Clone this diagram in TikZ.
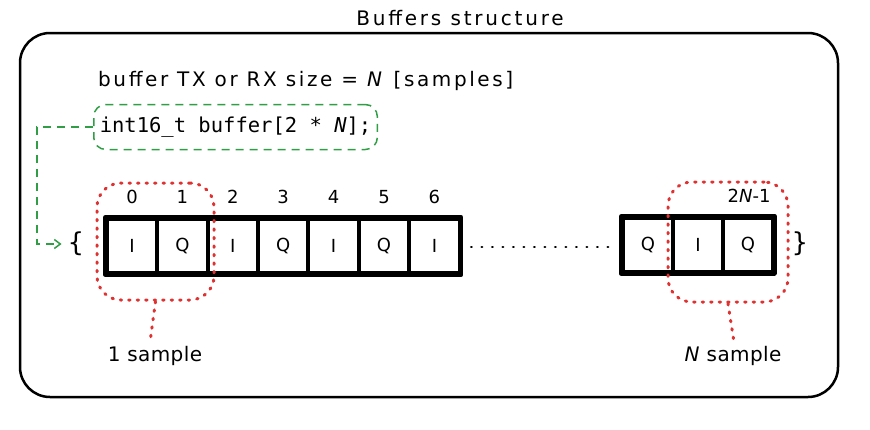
\documentclass[tikz,border=0pt]{standalone}
\usepackage{fontspec}
\setmainfont{DejaVu Sans}
\setmonofont{DejaVu Sans Mono}
\usetikzlibrary{calc,arrows.meta}
\definecolor{exred}{HTML}{E03131}
\definecolor{exgreen}{HTML}{2F9E44}
\tikzset{
  cell/.style={draw, line width=3.5pt, minimum width=50pt, minimum height=54pt, inner sep=0pt, font=\fontsize{18}{18}\selectfont},
  idx/.style={font=\fontsize{18}{18}\selectfont, inner sep=0pt},
  txt/.style={font=\fontsize{20}{20}\selectfont\addfontfeatures{LetterSpace=13}, inner sep=0pt, anchor=west},
  reddot/.style={draw=exred, line width=3pt, line cap=round, dash pattern=on 1.5pt off 7pt, rounded corners=24pt},
  redline/.style={draw=exred, line width=3pt, line cap=round, dash pattern=on 1.5pt off 7pt},
  greendash/.style={draw=exgreen, line width=1.5pt, dash pattern=on 8pt off 6pt},
  lbl/.style={font=\fontsize{20}{20}\selectfont\addfontfeatures{LetterSpace=2}, inner sep=0pt},
}
\begin{document}
\begin{tikzpicture}[x=1pt,y=-1pt]
\useasboundingbox (0,0) rectangle (870,429);
\node[font=\fontsize{20}{20}\selectfont\addfontfeatures{LetterSpace=14}, inner sep=0pt] (title) at (460,18) {Buffers structure};
\draw[line width=2.5pt, rounded corners=30pt] (20,33) rectangle (838,397);
\node[txt] (size) at (98,81) {buffer TX or RX size = \textit{N} [samples]};
\node[greendash, rounded corners=12pt, anchor=west, minimum height=45pt, inner xsep=6pt, font=\fontsize{20.5}{20.5}\ttfamily] (code) at (93,127) {int16\_t buffer[2 * \textit{N}];};
% cells
\foreach \i/\t [count=\k from 0] in {0/I,1/Q,2/I,3/Q,4/I,5/Q,6/I}{
  \node[cell] (c\i) at (132+50.4*\k,246) {\t};
  \node[idx] (n\i) at ($(c\i.north)+(0,-20)$) {\i};
}
\draw[line width=4.5pt, line join=round] (c0.north west) rectangle (c6.south east);
\foreach \i/\t [count=\k from 0] in {0/Q,1/I,2/Q}{
  \node[cell] (r\i) at (648+50*\k,245) {\t};
}
\draw[line width=4.5pt, line join=round] (r0.north west) rectangle (r2.south east);
\node[idx, anchor=east] (nlast) at ($(r2.north east)+(-4,-20)$) {2\textit{N}-1};
\draw[line width=2.5pt, line cap=round, dash pattern=on 0.5pt off 10pt] ($(c6.east)+(10,1)$) -- ($(r0.west)+(-8,2)$);
% braces
\node[font=\fontsize{26}{26}\selectfont, inner sep=0pt] (lb) at (76,244) {\{};
\node[font=\fontsize{26}{26}\selectfont, inner sep=0pt] (rb) at (800,244) {\}};
% green arrow
\coordinate (bend) at (37,127);
\draw[greendash, -{Straight Barb[length=6pt,width=9pt]}] (code.west) -- (bend) |- ($(lb.west)+(-6,0)$);
% red groups
\node[reddot, minimum width=117pt, minimum height=117pt] (g1) at (155.5,241.5) {};
\node[reddot, minimum width=120pt, minimum height=120pt] (g2) at (728,242) {};
\node[lbl] (l1) at (155,356) {1 sample};
\node[lbl] (l2) at (733,356) {\textit{N} sample};
\draw[redline] (g1.south) -- ($(l1.north)+(-5,-4)$);
\draw[redline] (g2.south) -- ($(l2.north)+(1,-4)$);
\end{tikzpicture}
\end{document}
